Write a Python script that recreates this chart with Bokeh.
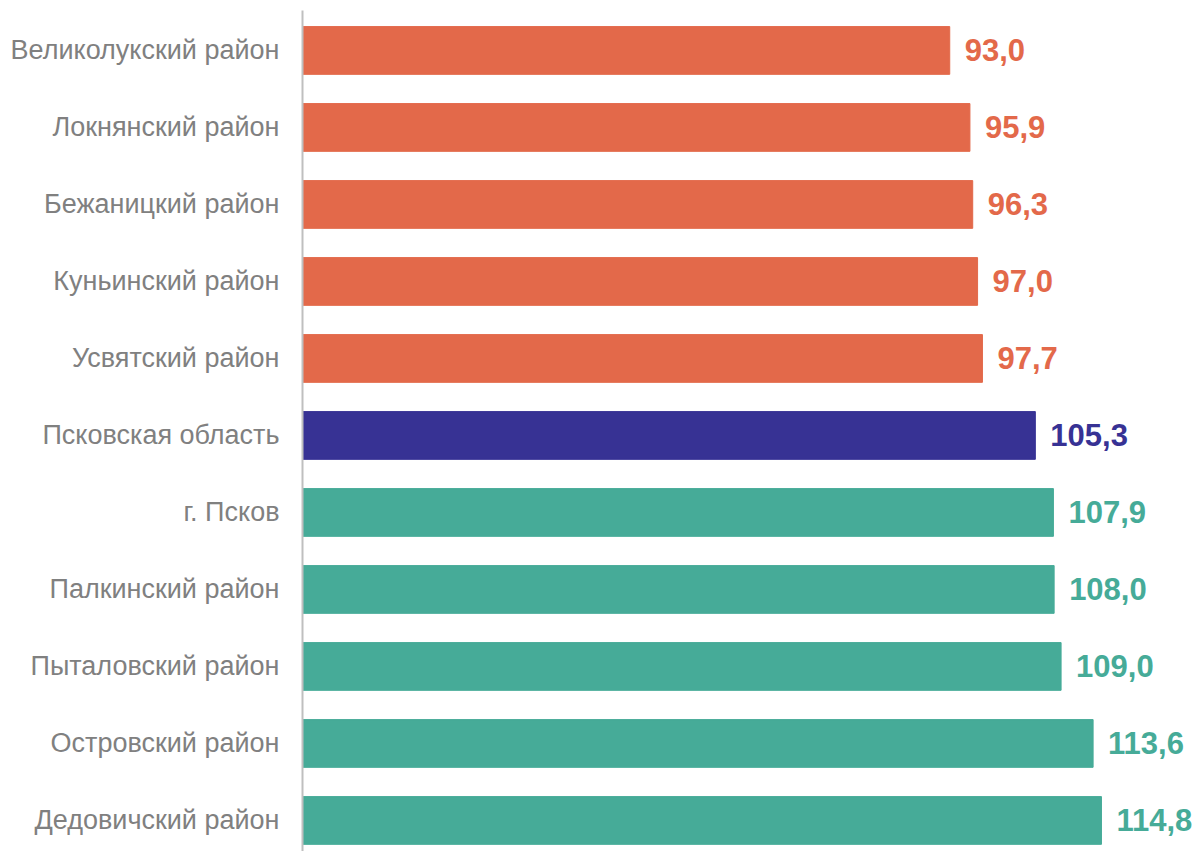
from bokeh.plotting import figure
from bokeh.models import Range1d, ColumnDataSource, LabelSet, FixedTicker
from bokeh.core.properties import value
from bokeh.embed import file_html
from bokeh.resources import INLINE

categories = ["Великолукский район", "Локнянский район", "Бежаницкий район",
              "Куньинский район", "Усвятский район", "Псковская область",
              "г. Псков", "Палкинский район", "Пыталовский район",
              "Островский район", "Дедовичский район"]
values = [93.0, 95.9, 96.3, 97.0, 97.7, 105.3, 107.9, 108.0, 109.0, 113.6, 114.8]
ORANGE = "#E3694A"
NAVY = "#373294"
TEAL = "#46AB98"
colors = [ORANGE] * 5 + [NAVY] + [TEAL] * 5

pos = list(range(len(categories)))
labels = [f"{v:.1f}".replace(".", ",") for v in values]

src = ColumnDataSource(dict(y=pos, v=values, c=colors, lab=labels))

p = figure(width=1197, height=851, output_backend="svg", toolbar_location=None,
           x_range=Range1d(0, 128.6), y_range=Range1d(10.403, -0.519),
           min_border_left=302, min_border_right=0, min_border_top=10, min_border_bottom=0)
p.hbar(y="y", right="v", left=0, height=0.62, color="c", source=src)

lbl = LabelSet(x="v", y="y", text="lab", source=src, x_offset=15, y_offset=0,
               text_color="c", text_font=value("Liberation Sans"), text_font_style="bold",
               text_font_size="31px", text_baseline="middle", text_align="left")
p.add_layout(lbl)

p.xaxis.visible = False
p.yaxis.ticker = FixedTicker(ticks=pos)
p.yaxis.major_label_overrides = {i: c for i, c in enumerate(categories)}
p.yaxis.major_tick_line_color = None
p.yaxis.minor_tick_line_color = None
p.yaxis.axis_line_color = "#BFBFBF"
p.yaxis.axis_line_width = 2
p.yaxis.major_label_text_font = "Liberation Sans"
p.yaxis.major_label_text_font_size = "27px"
p.yaxis.major_label_text_color = "#808080"
p.yaxis.major_label_standoff = 17
p.xgrid.grid_line_color = None
p.ygrid.grid_line_color = None
p.outline_line_color = None

open("out.html", "w").write(file_html(p, INLINE))
